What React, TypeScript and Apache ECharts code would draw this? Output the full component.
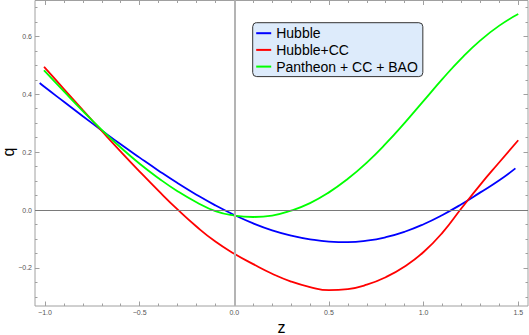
import React, { useEffect, useRef } from "react";
import * as echarts from "echarts";

// ---- data ----
const zBlue = [-1.028, -1.0, -0.9, -0.8, -0.7, -0.6, -0.5, -0.4, -0.3, -0.2, -0.1, 0, 0.1, 0.2, 0.3, 0.4, 0.5, 0.6, 0.7, 0.8, 0.9, 1.0, 1.1, 1.2, 1.3, 1.4, 1.485];
const qBlue = [0.439, 0.424, 0.374, 0.324, 0.275, 0.227, 0.181, 0.136, 0.093, 0.053, 0.016, -0.017, -0.046, -0.070, -0.088, -0.101, -0.109, -0.111, -0.106, -0.094, -0.075, -0.049, -0.017, 0.020, 0.061, 0.103, 0.144];

const zRed = [-1.005, -1.0, -0.9, -0.8, -0.7, -0.6, -0.5, -0.4, -0.3, -0.2, -0.1, 0, 0.1, 0.2, 0.3, 0.4, 0.5, 0.6, 0.7, 0.8, 0.9, 1.0, 1.1, 1.2, 1.3, 1.4, 1.5];
const qRed = [0.495, 0.491, 0.418, 0.345, 0.273, 0.202, 0.133, 0.066, 0.002, -0.057, -0.109, -0.151, -0.187, -0.220, -0.247, -0.266, -0.277, -0.273, -0.258, -0.232, -0.195, -0.145, -0.078, 0.006, 0.088, 0.165, 0.241];

const zGreen = [-1.005, -1.0, -0.9, -0.8, -0.7, -0.6, -0.5, -0.4, -0.3, -0.2, -0.1, 0, 0.1, 0.2, 0.3, 0.4, 0.5, 0.6, 0.7, 0.8, 0.9, 1.0, 1.1, 1.2, 1.3, 1.4, 1.5];
const qGreen = [0.483, 0.479, 0.410, 0.342, 0.277, 0.216, 0.160, 0.110, 0.065, 0.027, -0.004, -0.019, -0.024, -0.019, -0.002, 0.024, 0.061, 0.108, 0.164, 0.229, 0.301, 0.377, 0.453, 0.524, 0.586, 0.637, 0.677];

const seriesNames = ["Hubble", "Hubble+CC", "Pantheon + CC + BAO"];
const seriesColors = ["#0000ff", "#ff0000", "#00ff00"];

const xMajorTicks = [-1.0, -0.5, 0.0, 0.5, 1.0, 1.5];
const xMinorTicks = [-1.0, -0.9, -0.8, -0.7, -0.6, -0.5, -0.4, -0.3, -0.2, -0.1, 0, 0.1, 0.2, 0.3, 0.4, 0.5, 0.6, 0.7, 0.8, 0.9, 1.0, 1.1, 1.2, 1.3, 1.4, 1.5];
const yMajorTicks = [-0.2, 0.0, 0.2, 0.4, 0.6];
const yMinorTicks = [-0.3, -0.25, -0.2, -0.15, -0.1, -0.05, 0, 0.05, 0.1, 0.15, 0.2, 0.25, 0.3, 0.35, 0.4, 0.45, 0.5, 0.55, 0.6, 0.65, 0.7];

const X_MIN = -1.0528;
const X_MAX = 1.5515;
const Y_MIN = -0.3315;
const Y_MAX = 0.7238;

const FRAME = "#a0a0a0";
const FONT = "Liberation Sans, Arial, sans-serif";

const fmt = (v: number) => (v < 0 ? "\u2212" + Math.abs(v).toFixed(1) : v.toFixed(1));

function makeAxis(kind: "x" | "y", position: string, major: boolean, labels: boolean) {
  const ticks = kind === "x" ? (major ? xMajorTicks : xMinorTicks) : (major ? yMajorTicks : yMinorTicks);
  return {
    type: "value",
    position,
    min: kind === "x" ? X_MIN : Y_MIN,
    max: kind === "x" ? X_MAX : Y_MAX,
    axisLine: { show: false, onZero: false },
    splitLine: { show: false },
    axisTick: {
      show: true,
      inside: true,
      length: major ? 4.5 : 2.5,
      customValues: ticks,
      lineStyle: { color: FRAME, width: 1 },
    },
    axisLabel: {
      show: labels,
      customValues: ticks,
      formatter: fmt,
      fontSize: 7,
      color: "#555",
      fontFamily: FONT,
      margin: 3,
    },
  };
}

export default function App() {
  const ref = useRef<HTMLDivElement>(null);

  useEffect(() => {
    if (!ref.current) return;
    const chart = echarts.init(ref.current, undefined, { renderer: "svg" });
    const zs = [zBlue, zRed, zGreen];
    const qs = [qBlue, qRed, qGreen];

    const curves = seriesNames.map((name, i) => ({
      name,
      type: "line",
      xAxisIndex: 0,
      yAxisIndex: 0,
      data: zs[i].map((z, j) => [z, qs[i][j]]),
      showSymbol: false,
      symbol: "none",
      smooth: 0.5,
      color: seriesColors[i],
      lineStyle: { color: seriesColors[i], width: 1.8 },
      z: 3,
    }));

    chart.setOption({
      animation: false,
      backgroundColor: "#ffffff",
      grid: {
        left: 35,
        right: 1,
        top: 0.5,
        bottom: 29,
        show: true,
        borderColor: FRAME,
        borderWidth: 1,
        backgroundColor: "transparent",
      },
      xAxis: [
        makeAxis("x", "bottom", true, true),
        makeAxis("x", "bottom", false, false),
        makeAxis("x", "top", true, false),
        makeAxis("x", "top", false, false),
      ],
      yAxis: [
        makeAxis("y", "left", true, true),
        makeAxis("y", "left", false, false),
        makeAxis("y", "right", true, false),
        makeAxis("y", "right", false, false),
      ],
      legend: {
        data: seriesNames,
        orient: "vertical",
        left: 252.7,
        top: 22.7,
        padding: [3.5, 5, 3, 3.5],
        itemGap: 2.7,
        itemWidth: 15,
        itemHeight: 2,
        icon: "rect",
        backgroundColor: "#ddebfb",
        borderColor: "#333333",
        borderWidth: 1,
        borderRadius: 4,
        textStyle: { fontSize: 14, color: "#000", fontFamily: FONT, lineHeight: 14 },
        selectedMode: false,
      },
      graphic: [
        {
          type: "text",
          x: 8,
          y: 152,
          rotation: Math.PI / 2,
          style: {
            text: "q",
            fontSize: 16,
            fontFamily: FONT,
            fill: "#000",
            align: "center",
            verticalAlign: "middle",
          },
        },
        {
          type: "text",
          x: 281.5,
          y: 327,
          style: {
            text: "z",
            fontSize: 16,
            fontFamily: FONT,
            fill: "#000",
            align: "center",
            verticalAlign: "middle",
          },
        },
      ],
      series: [
        {
          name: "axes0",
          type: "line",
          data: [],
          silent: true,
          z: 1,
          markLine: {
            silent: true,
            symbol: ["none", "none"],
            label: { show: false },
            data: [
              { xAxis: 0, lineStyle: { color: "#b4b4b4", width: 2, type: "solid" } },
              { yAxis: 0, lineStyle: { color: "#7a7a7a", width: 1, type: "solid" } },
            ],
          },
        },
        ...curves,
      ],
    });

    return () => chart.dispose();
  }, []);

  return (
    <div
      ref={ref}
      style={{ position: "fixed", left: 0, top: 0, width: 529, height: 335, background: "#fff" }}
    />
  );
}
